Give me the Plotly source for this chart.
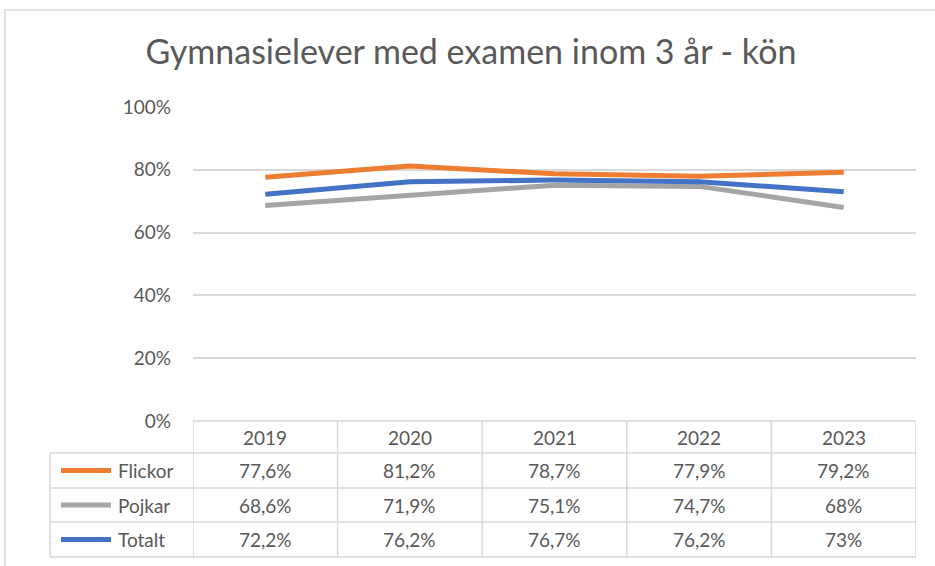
import plotly.graph_objects as go

# Data
YEARS = ['2019', '2020', '2021', '2022', '2023']
FLICKOR = [77.6, 81.2, 78.7, 77.9, 79.2]
POJKAR = [68.6, 71.9, 75.1, 74.7, 68.0]
TOTALT = [72.2, 76.2, 76.7, 76.2, 73.0]
SERIES_NAMES = ['Flickor', 'Pojkar', 'Totalt']
TITLE = 'Gymnasielever med examen inom 3 år - kön'

COLORS = {
    'Flickor': '#ED7D31',
    'Pojkar': '#A5A5A5',
    'Totalt': '#4472C4',
    'text': '#595959',
    'grid': '#D9D9D9',
    'border': '#E3E3E3',
}
FONT = 'Lato'
W, H = 935, 566


def px(x):
    return x / W


def py(y):
    return 1 - y / H


def fmt(v):
    return f'{v:g}'.replace('.', ',') + '%'


series = dict(zip(SERIES_NAMES, [FLICKOR, POJKAR, TOTALT]))
xi = list(range(len(YEARS)))

fig = go.Figure()
for name in SERIES_NAMES:
    fig.add_trace(go.Scatter(
        x=xi, y=[v / 100 for v in series[name]],
        mode='lines', name=name,
        line=dict(color=COLORS[name], width=5),
        showlegend=False,
    ))

fig.update_layout(
    width=W, height=H,
    margin=dict(l=0, r=0, t=0, b=0, autoexpand=False),
    showlegend=False,
    paper_bgcolor='white', plot_bgcolor='white',
    font=dict(family=FONT, color=COLORS['text'], size=19),
    title=dict(text=TITLE, x=px(471), xanchor='center', y=py(52), yanchor='middle',
               font=dict(size=34, color=COLORS['text'], family=FONT)),
    xaxis=dict(domain=[px(193), px(916)], range=[-0.5, len(YEARS) - 0.5],
               showgrid=False, zeroline=False, showticklabels=False,
               automargin=False, fixedrange=True),
    yaxis=dict(domain=[py(421), py(106)], range=[0, 1.003],
               tickvals=[0, 0.2, 0.4, 0.6, 0.8, 1.0], tickformat='.0%',
               showgrid=True, gridcolor=COLORS['grid'], gridwidth=1.5,
               zeroline=False, ticklabelstandoff=21, automargin=False,
               tickfont=dict(size=19, color=COLORS['text'])),
)

shapes = []
line_style = dict(color=COLORS['grid'], width=1.5)

# chart border
shapes.append(dict(type='rect', xref='paper', yref='paper',
                   x0=px(5), x1=1.05, y0=-0.05, y1=py(10),
                   line=dict(color=COLORS['border'], width=2)))

# data table grid
row_edges = [421, 453, 488, 522, 557]
left_edge = 50
for k, y in enumerate(row_edges):
    shapes.append(dict(type='line', xref='paper', yref='paper',
                       x0=px(193) if k == 0 else px(left_edge), x1=px(916),
                       y0=py(y), y1=py(y), line=line_style))
for i in range(len(YEARS) + 1):
    shapes.append(dict(type='line', xref='x', yref='paper',
                       x0=i - 0.5, x1=i - 0.5, y0=py(row_edges[0]), y1=py(row_edges[-1]),
                       line=line_style))
shapes.append(dict(type='line', xref='paper', yref='paper',
                   x0=px(left_edge), x1=px(left_edge), y0=py(row_edges[1]), y1=py(row_edges[-1]),
                   line=line_style))

annotations = []
for i, yr in enumerate(YEARS):
    annotations.append(dict(x=i, y=py((row_edges[0] + row_edges[1]) / 2), xref='x', yref='paper',
                            text=yr, showarrow=False, xanchor='center', yanchor='middle'))
for r, name in enumerate(SERIES_NAMES):
    yc = py((row_edges[r + 1] + row_edges[r + 2]) / 2)
    shapes.append(dict(type='line', xref='paper', yref='paper',
                       x0=px(61), x1=px(111), y0=yc, y1=yc,
                       line=dict(color=COLORS[name], width=5)))
    annotations.append(dict(x=px(116), y=yc, xref='paper', yref='paper', text=name,
                            showarrow=False, xanchor='left', yanchor='middle'))
    for i, v in enumerate(series[name]):
        annotations.append(dict(x=i, y=yc, xref='x', yref='paper', text=fmt(v),
                                showarrow=False, xanchor='center', yanchor='middle'))

fig.update_layout(shapes=shapes, annotations=annotations)

# drop the default page margin so the figure sits at the window's top-left corner
fig.write_html('out.html', config={'displayModeBar': False},
               post_script="document.body.style.margin='0';")
